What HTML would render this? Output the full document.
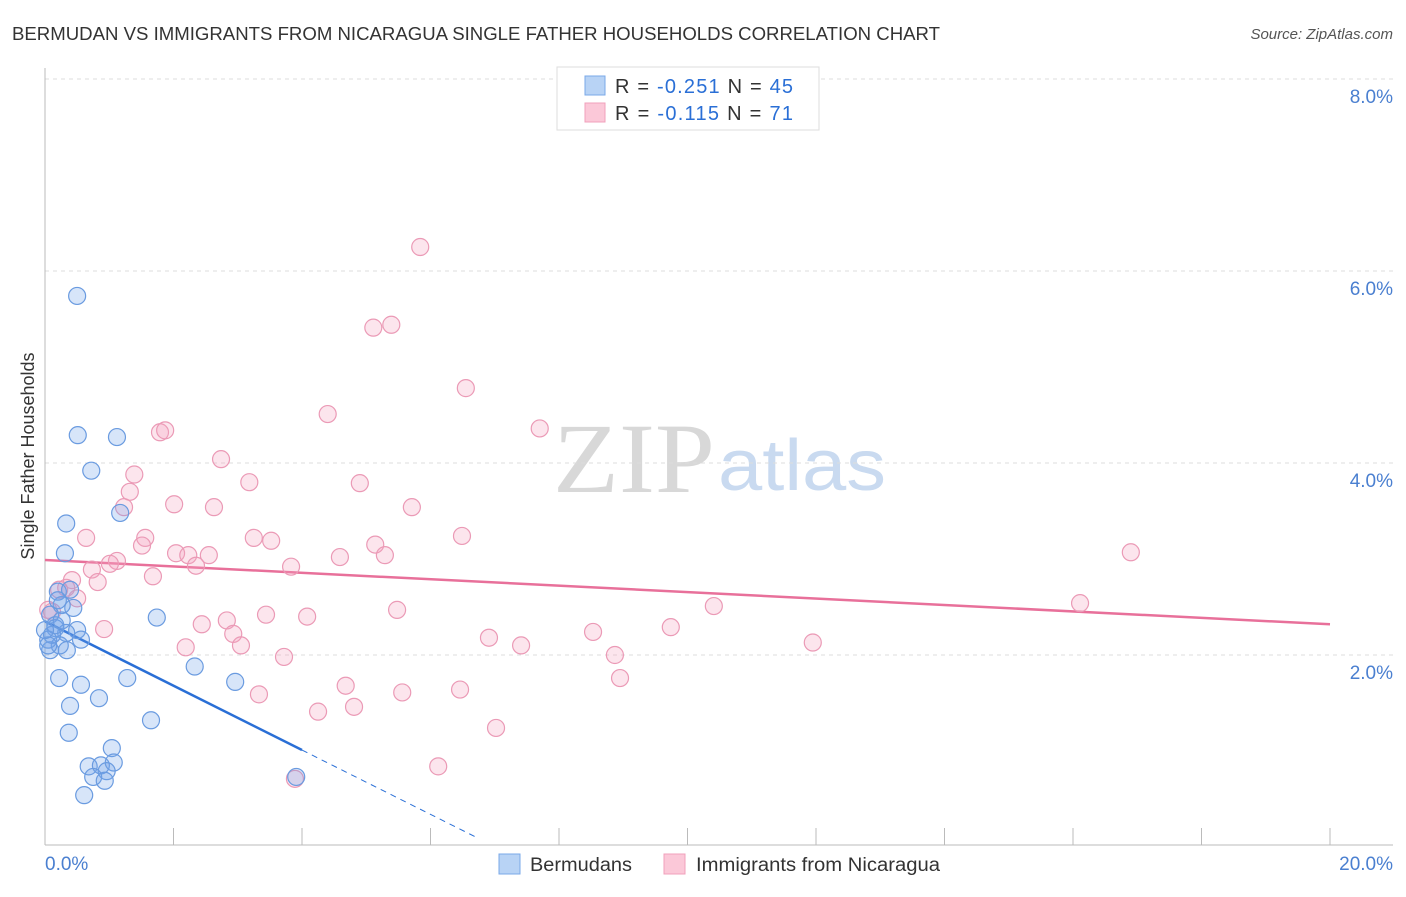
<!DOCTYPE html>
<html><head><meta charset="utf-8"><style>
body{margin:0;background:#fff;font-family:"Liberation Sans",sans-serif}
svg text{font-family:"Liberation Sans",sans-serif}
</style></head><body>
<svg id="chart" width="1406" height="892" xmlns="http://www.w3.org/2000/svg">
<text x="12" y="40" font-size="18.5" fill="#333" textLength="928" lengthAdjust="spacingAndGlyphs">BERMUDAN VS IMMIGRANTS FROM NICARAGUA SINGLE FATHER HOUSEHOLDS CORRELATION CHART</text>
<text x="1393" y="39" font-size="15" fill="#555" font-style="italic" text-anchor="end">Source: ZipAtlas.com</text>
<g>
<text x="553" y="492" font-size="100" fill="#d8d8d8" style="font-family:'Liberation Serif',serif" textLength="162" lengthAdjust="spacingAndGlyphs">ZIP</text>
<text x="718" y="490" font-size="72" fill="#c9daf0" textLength="168" lengthAdjust="spacingAndGlyphs">atlas</text>
</g>
<g id="grid"></g>
<g id="axes"></g>
<g id="lines"></g>
<g id="pts"></g>
<text transform="translate(34,456) rotate(-90)" font-size="18" fill="#333" text-anchor="middle">Single Father Households</text>
<g>
<rect x="557" y="67" width="262" height="63" fill="#fff" stroke="#ddd"/>
<rect x="585" y="76" width="20" height="19" fill="#b8d3f5" stroke="#7aa8e8"/>
<rect x="585" y="103" width="20" height="19" fill="#fbc8d8" stroke="#f0a0bb"/>
<text x="615" y="93" font-size="20" fill="#333" textLength="178" lengthAdjust="spacing">R = <tspan fill="#2a6fd6">-0.251</tspan>   N = <tspan fill="#2a6fd6">45</tspan></text>
<text x="615" y="120" font-size="20" fill="#333" textLength="178" lengthAdjust="spacing">R =  <tspan fill="#2a6fd6">-0.115</tspan>   N =  <tspan fill="#2a6fd6">71</tspan></text>
</g>
<g>
<rect x="499" y="854" width="21" height="20" fill="#b8d3f5" stroke="#7aa8e8"/>
<text x="530" y="871" font-size="19" fill="#333" textLength="102" lengthAdjust="spacingAndGlyphs">Bermudans</text>
<rect x="664" y="854" width="21" height="20" fill="#fbc8d8" stroke="#f0a0bb"/>
<text x="696" y="871" font-size="19" fill="#333" textLength="244" lengthAdjust="spacingAndGlyphs">Immigrants from Nicaragua</text>
</g>
</svg>
<script>
const yTicks=[2,4,6,8];
const yTickLabels=["2.0%","4.0%","6.0%","8.0%"];
const xTicks=[0,2,4,6,8,10,12,14,16,18,20];
const blueX=[0.50,0.51,1.12,0.72,0.33,1.17,0.31,0.20,0.39,0.44,0.26,0.08,0.16,0.50,0.33,0.56,0.23,0.08,0.05,0.11,1.74,2.33,2.96,1.28,0.22,0.56,0.84,0.39,1.65,0.37,1.04,0.68,0.87,1.07,0.96,0.75,0.93,0.61,3.91,0.05,0.16,0.0,0.26,0.20,0.34];
const blueY=[5.74,4.29,4.27,3.92,3.37,3.48,3.06,2.66,2.68,2.49,2.52,2.42,2.28,2.26,2.23,2.16,2.10,2.05,2.16,2.21,2.39,1.88,1.72,1.76,1.76,1.69,1.55,1.47,1.32,1.19,1.03,0.84,0.85,0.88,0.79,0.73,0.69,0.54,0.73,2.10,2.31,2.26,2.36,2.57,2.05];
const pinkX=[5.84,5.11,5.39,6.55,4.40,7.70,1.79,1.87,2.74,1.39,3.18,4.90,1.32,1.23,2.01,2.63,5.71,0.64,1.56,1.51,3.25,3.52,6.49,5.14,2.04,2.23,2.55,5.29,4.59,1.12,1.01,2.35,3.83,16.90,0.73,1.68,0.42,0.82,0.33,0.22,0.50,0.05,16.11,10.41,5.48,3.44,4.08,2.83,2.44,0.92,9.74,8.53,6.91,2.93,2.19,3.05,7.41,11.95,8.87,3.72,8.95,4.68,6.46,3.33,5.56,4.81,4.25,7.02,6.12,3.89,0.11];
const pinkY=[6.25,5.41,5.44,4.78,4.51,4.36,4.32,4.34,4.04,3.88,3.80,3.79,3.70,3.54,3.57,3.54,3.54,3.22,3.22,3.14,3.22,3.19,3.24,3.15,3.06,3.04,3.04,3.04,3.02,2.98,2.95,2.93,2.92,3.07,2.89,2.82,2.78,2.76,2.70,2.68,2.59,2.47,2.54,2.51,2.47,2.42,2.40,2.36,2.32,2.27,2.29,2.24,2.18,2.22,2.08,2.10,2.10,2.13,2.00,1.98,1.76,1.68,1.64,1.59,1.61,1.46,1.41,1.24,0.84,0.71,2.45];
const blueTrend=[2.35,-0.335];
const pinkTrend=[2.99,-0.0335];
const NS="http://www.w3.org/2000/svg";
const sx=v=>45+v*64.25, sy=v=>847-v*96;
function mk(tag,attrs,parent){const e=document.createElementNS(NS,tag);for(const k in attrs)e.setAttribute(k,attrs[k]);document.getElementById(parent).appendChild(e);return e;}
yTicks.forEach((t,i)=>{
 const g=mk('line',{x1:45,x2:1393,y1:sy(t),y2:sy(t),stroke:'#ddd','stroke-dasharray':'4,4'},'grid');
 
 
 const l=mk('text',{x:1393,y:sy(t)+24,'font-size':19,fill:'#4a7fd0','text-anchor':'end'},'grid');
 l.textContent=yTickLabels[i];
 
 
});
const ax=mk('line',{x1:45,x2:1393,y1:845,y2:845,stroke:'#bbb'},'axes');


const ay=mk('line',{x1:45,x2:45,y1:68,y2:845,stroke:'#bbb'},'axes');


xTicks.forEach(t=>{
 const k=mk('line',{x1:sx(t),x2:sx(t),y1:828,y2:845,stroke:'#bbb'},'axes');
 
 
});
const x0=mk('text',{x:45,y:870,'font-size':19,fill:'#4a7fd0'},'axes');x0.textContent='0.0%';


const x1=mk('text',{x:1393,y:870,'font-size':19,fill:'#4a7fd0','text-anchor':'end'},'axes');x1.textContent='20.0%';


function pts(xs,ys,fill,stroke,name){xs.forEach((x,i)=>{
 const c=mk('circle',{cx:sx(x),cy:sy(ys[i]),r:8.5,fill:fill,stroke:stroke,'stroke-width':1.2},'pts');
 
 
});}
pts(pinkX,pinkY,'rgba(245,160,190,0.28)','#eb9ab6','nicaragua-point');
pts(blueX,blueY,'rgba(110,160,235,0.28)','#6a9be0','bermudan-point');
const bEnd=4, bDash=6.74;
const bl=mk('line',{x1:sx(0),y1:sy(blueTrend[0]),x2:sx(bEnd),y2:sy(blueTrend[0]+blueTrend[1]*bEnd),stroke:'#2a6fd6','stroke-width':2.5},'lines');


const bd=mk('line',{x1:sx(bEnd),y1:sy(blueTrend[0]+blueTrend[1]*bEnd),x2:sx(bDash),y2:sy(blueTrend[0]+blueTrend[1]*bDash),stroke:'#2a6fd6','stroke-width':1,'stroke-dasharray':'6,5'},'lines');


const pl=mk('line',{x1:sx(0),y1:sy(pinkTrend[0]),x2:sx(20),y2:sy(pinkTrend[0]+pinkTrend[1]*20),stroke:'#e8709a','stroke-width':2.5},'lines');


</script>
</body></html>
